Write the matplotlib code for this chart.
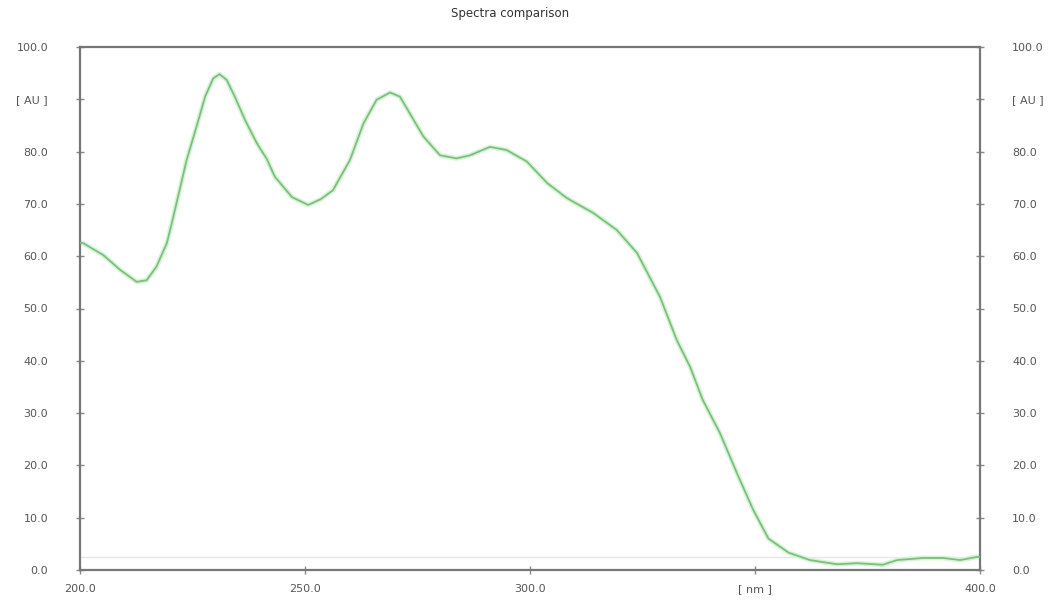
import matplotlib
matplotlib.use("Agg")
import matplotlib.pyplot as plt

# Spectrum data (wavelength nm, absorbance AU)
wavelength = [200.0, 200.7, 205.2, 208.9, 212.6, 214.8, 217.0, 219.3, 220.4, 223.7,
              225.9, 227.8, 229.6, 231.0, 232.6, 234.4, 236.7, 239.3, 241.5, 243.3,
              247.1, 250.7, 253.5, 256.2, 260.0, 263.0, 265.9, 268.9, 271.1, 273.7,
              276.3, 280.0, 283.7, 286.7, 291.1, 294.8, 299.3, 303.8, 308.2, 314.0,
              319.3, 323.8, 328.9, 332.6, 335.6, 338.4, 342.2, 346.0, 349.6, 353.0,
              357.5, 362.2, 368.2, 372.7, 378.4, 381.6, 387.3, 391.8, 395.6, 399.3,
              400.0]
absorbance = [62.6, 62.5, 60.2, 57.4, 55.1, 55.4, 58.0, 62.5, 66.3, 78.4,
              84.8, 90.5, 94.0, 94.8, 93.7, 90.5, 86.0, 81.6, 78.6, 75.2,
              71.3, 69.8, 70.9, 72.6, 78.4, 85.4, 89.9, 91.3, 90.5, 86.7,
              82.9, 79.3, 78.7, 79.3, 80.9, 80.3, 78.1, 74.0, 71.1, 68.3,
              65.0, 60.6, 52.2, 44.0, 38.8, 32.5, 26.2, 18.5, 11.5, 6.0,
              3.3, 1.9, 1.1, 1.3, 1.0, 1.9, 2.3, 2.3, 1.9, 2.5,
              2.5]

x_ticks = [200, 250, 300, 350, 400]
x_tick_labels = ["200.0", "250.0", "300.0", "[ nm ]", "400.0"]
y_ticks = [0, 10, 20, 30, 40, 50, 60, 70, 80, 90, 100]
y_tick_labels = ["0.0", "10.0", "20.0", "30.0", "40.0", "50.0", "60.0",
                 "70.0", "80.0", "[ AU ]", "100.0"]
baseline = 2.5
title = "Spectra comparison"

fig = plt.figure(figsize=(10.52, 6.03), dpi=100)
ax = fig.add_axes([80/1052, 1-570/603, 900/1052, 523/603])

ax.axhline(baseline, color="#e6e6e6", lw=1.0, zorder=1)
ax.plot(wavelength, absorbance, color="#d8f4d8", lw=3.5, zorder=2,
        solid_joinstyle="round", solid_capstyle="round")
ax.plot(wavelength, absorbance, color="#7cbf7c", lw=1.3, zorder=3,
        solid_joinstyle="round")

ax.set_xlim(200, 400)
ax.set_ylim(0, 100)
ax.set_xticks(x_ticks)
ax.set_xticklabels(x_tick_labels)
ax.set_yticks(y_ticks)
ax.set_yticklabels(y_tick_labels)

for s in ax.spines.values():
    s.set_color("#777777")
    s.set_linewidth(1.6)

ax.tick_params(axis="both", direction="inout", length=6, width=1.0, color="#888888",
               labelcolor="#555555", labelsize=8)
ax.tick_params(axis="y", left=True, right=True, labelleft=True, labelright=True, pad=20)
ax.tick_params(axis="x", pad=7)

fig.text(0.485, 1-14/603, title, ha="center", va="center", fontsize=8.5, color="#333333")

fig.savefig("out.png", dpi=100, facecolor="white")
